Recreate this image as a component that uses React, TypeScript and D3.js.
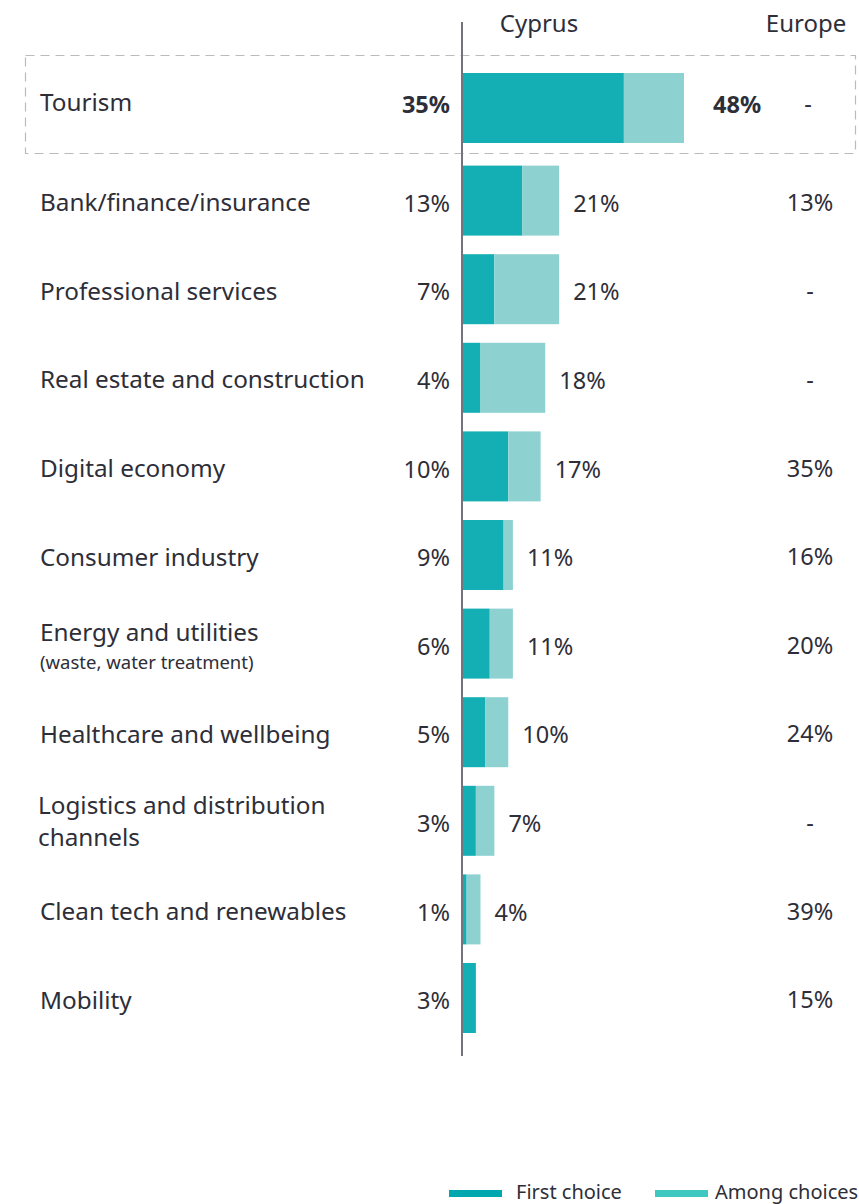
import React from "react";
import * as d3 from "d3";

const categories: string[][] = [
  ["Tourism"],
  ["Bank/finance/insurance"],
  ["Professional services"],
  ["Real estate and construction"],
  ["Digital economy"],
  ["Consumer industry"],
  ["Energy and utilities", "(waste, water treatment)"],
  ["Healthcare and wellbeing"],
  ["Logistics and distribution", "channels"],
  ["Clean tech and renewables"],
  ["Mobility"],
];
const firstChoice: number[] = [35, 13, 7, 4, 10, 9, 6, 5, 3, 1, 3];
const amongChoices: (number | null)[] = [48, 21, 21, 18, 17, 11, 11, 10, 7, 4, null];
const europe: (number | null)[] = [null, 13, null, null, 35, 16, 20, 24, null, 39, 15];
const seriesNames = ["First choice", "Among choices"];

const W = 859;
const H = 1204;
const FONT = "'Noto Sans', 'Open Sans', sans-serif";
const TEXT = "#2e2e38";
const C_FIRST = "#14afb5";
const C_AMONG = "#8dd1d1";
const L_FIRST = "#00a7ae";
const L_AMONG = "#3fc8c0";

export default function App() {
  const x0 = 462;
  const x = d3.scaleLinear().domain([0, 48]).range([x0, 684]);
  const y = d3
    .scaleBand<number>()
    .domain(d3.range(categories.length))
    .range([77, 1033])
    .paddingInner(0.21)
    .paddingOuter(0);
  const bw = y.bandwidth();
  const rowY = (i: number) => (y(i) as number) - (i === 0 ? 4 : 0);

  return (
    <svg width={W} height={H} style={{ position: "absolute", left: 0, top: 0, background: "#fff" }} fontFamily={FONT}>
      <rect
        x={25.5}
        y={55.5}
        width={830}
        height={98}
        fill="none"
        stroke="#b8bcc0"
        strokeWidth={1.2}
        strokeDasharray="9 6"
      />
      <text x={539} y={26} dominantBaseline="middle" textAnchor="middle" fontSize={24} fill={TEXT}>Cyprus</text>
      <text x={806} y={26} dominantBaseline="middle" textAnchor="middle" fontSize={24} fill={TEXT}>Europe</text>
      {categories.map((lines, i) => {
        const y0 = rowY(i);
        const yc = y0 + bw / 2;
        const bold = i === 0;
        const fc = firstChoice[i];
        const ac = amongChoices[i];
        const eu = europe[i];
        const end = x(Math.max(fc, ac ?? 0));
        const dy = bold ? -1 : 5;
        return (
          <g key={i}>
            <rect x={x0} y={y0} width={x(fc) - x0} height={bw} fill={C_FIRST} />
            {ac !== null && (
              <rect x={x(fc)} y={y0} width={x(ac) - x(fc)} height={bw} fill={C_AMONG} />
            )}
            {lines.length === 1 ? (
              <text x={40} y={yc + (bold ? -4 : 4)} dominantBaseline="middle" fontSize={24.3} fill={TEXT}>
                {lines[0]}
              </text>
            ) : i === 6 ? (
              <>
                <text x={40} y={yc - 9} dominantBaseline="middle" fontSize={24.3} fill={TEXT}>{lines[0]}</text>
                <text x={40} y={yc + 20} dominantBaseline="middle" fontSize={18.5} fill={TEXT}>{lines[1]}</text>
              </>
            ) : (
              <>
                <text x={38} y={yc - 13} dominantBaseline="middle" fontSize={24.3} fill={TEXT}>{lines[0]}</text>
                <text x={38} y={yc + 19} dominantBaseline="middle" fontSize={24.3} fill={TEXT}>{lines[1]}</text>
              </>
            )}
            <text
              x={450}
              y={yc + dy}
              dominantBaseline="middle"
              textAnchor="end"
              fontSize={23.5}
              fontWeight={bold ? 700 : 400}
              fill={TEXT}
            >
              {fc}%
            </text>
            {ac !== null && (
              <text
                x={end + (bold ? 29 : 14)}
                y={yc + dy}
                dominantBaseline="middle"
                fontSize={23.5}
                fontWeight={bold ? 700 : 400}
                fill={TEXT}
              >
                {ac}%
              </text>
            )}
            <text x={bold ? 808 : 810} y={yc + dy - 1} dominantBaseline="middle" textAnchor="middle" fontSize={23.5} fill={TEXT}>
              {eu === null ? "-" : `${eu}%`}
            </text>
          </g>
        );
      })}
      <line x1={x0} x2={x0} y1={22} y2={1056} stroke="#747480" strokeWidth={2} />
      {seriesNames.map((name, k) => {
        const lx = k === 0 ? 449 : 655;
        return (
          <g key={name}>
            <rect x={lx} y={1190} width={53} height={7} fill={k === 0 ? L_FIRST : L_AMONG} />
            <text x={lx + (k === 0 ? 67 : 60)} y={1194} dominantBaseline="middle" fontSize={20} fill={TEXT}>
              {name}
            </text>
          </g>
        );
      })}
    </svg>
  );
}
